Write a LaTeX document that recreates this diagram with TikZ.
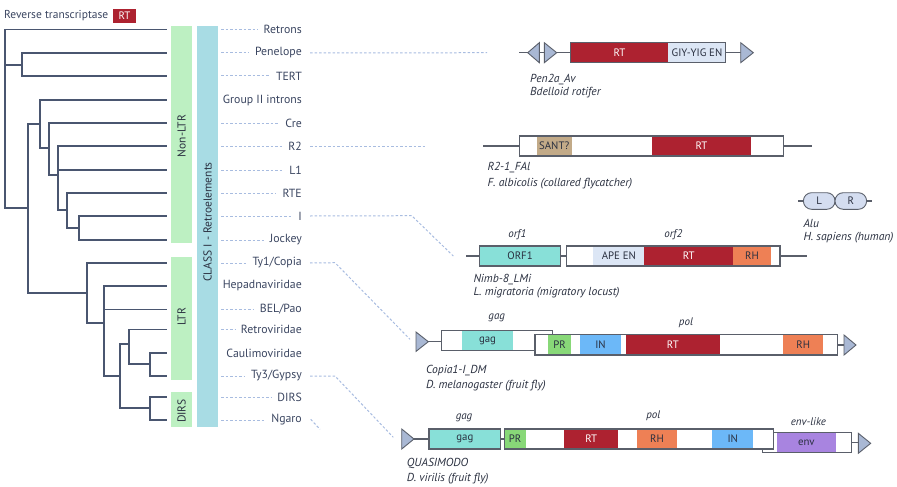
\documentclass[tikz,border=0pt]{standalone}
\usepackage{fontspec}
\setmainfont{PT Sans}
\definecolor{treec}{HTML}{4A5670}
\definecolor{labc}{HTML}{3A4560}
\definecolor{dashblue}{HTML}{A8BCE0}
\definecolor{outc}{HTML}{5A5F6A}
\definecolor{rtred}{HTML}{AD2230}
\definecolor{lblue}{HTML}{DCE6F5}
\definecolor{tan}{HTML}{C2AA88}
\definecolor{teal}{HTML}{88E0D8}
\definecolor{orng}{HTML}{EE8055}
\definecolor{prgreen}{HTML}{88D878}
\definecolor{inblue}{HTML}{6CB8F8}
\definecolor{envpur}{HTML}{A884E0}
\definecolor{trif}{HTML}{A9B8D4}
\definecolor{alufill}{HTML}{D4DDF0}
\definecolor{bargreen}{HTML}{BDF0C2}
\definecolor{barblue}{HTML}{A8DCE4}
\definecolor{segtxt}{HTML}{2A3040}
\definecolor{spc}{HTML}{2A3040}
\newcommand\mkseg[8]{\node[seg, fill=#6, text=#7, minimum width={(#3)-(#2)}, minimum height={(#5)-(#4)}] (#1) at (#2,#4) {#8};}
\begin{document}
\begin{tikzpicture}[x=1pt,y=-1pt,
  treeline/.style={draw=treec, line width=1.7pt, line cap=rect},
  leaf/.style={anchor=east, inner sep=0pt, text=labc, font=\fontsize{11.8}{12}\selectfont},
  dashc/.style={draw=dashblue, line width=1pt, dash pattern=on 2.5pt off 2pt},
  outl/.style={draw=outc, line width=1.1pt},
  seg/.style={anchor=north west, inner sep=0pt, outer sep=0pt, draw=none, font=\fontsize{10.8}{11}\selectfont},
  tri/.style={fill=trif, draw=outc, line width=0.9pt, line join=miter},
  wire/.style={draw=outc, line width=1.1pt},
  species/.style={anchor=west, inner sep=0pt, font=\itshape\fontsize{11.6}{12}\selectfont, text=spc},
  orflab/.style={inner sep=0pt, font=\itshape\fontsize{11}{12}\selectfont, text=spc},
  barbox/.style={anchor=north west, inner sep=0pt, outer sep=0pt},
  bartext/.style={rotate=90, inner sep=0pt, font=\fontsize{11.5}{12}\selectfont, text=segtxt},
  pill/.style={draw=outc, line width=0.9pt, fill=alufill, rounded corners=8.2pt, minimum width=31.6pt, minimum height=16.6pt, inner sep=0pt, font=\fontsize{10.8}{11}\selectfont, text=segtxt}
]
\useasboundingbox (0,0) rectangle (897,487);

% legend
\node[anchor=west, inner sep=0pt, text=labc, font=\fontsize{11.5}{12}\selectfont] (legend) at (4,16) {Reverse transcriptase};
\mkseg{legrt}{113}{136}{9}{23}{rtred}{white}{RT}

% bars
\node[barbox, fill=bargreen, minimum width=21pt, minimum height=217pt] (nonltrbar) at (171,26) {};
\node[barbox, fill=bargreen, minimum width=21pt, minimum height=123pt] (ltrbar) at (171,257) {};
\node[barbox, fill=bargreen, minimum width=21pt, minimum height=35pt] (dirsbar) at (171,392) {};
\node[barbox, fill=barblue, minimum width=21pt, minimum height=401pt] (classbar) at (197,26) {};
\node[bartext] (nonltrtxt) at (181.5,136) {Non-LTR};
\node[bartext] (ltrtxt) at (181.5,317) {LTR};
\node[bartext] (dirstxt) at (181.5,411) {DIRS};
\node[bartext] (classtxt) at (207.5,222) {CLASS I - Retroelements};

% tree
\draw[treeline] (166,29.5) -- (5,29.5) -- (5,208) -- (28,208);
\draw[treeline] (5,65) -- (22,65);
\draw[treeline] (166,53) -- (22,53) -- (22,76) -- (166,76);
\draw[treeline] (28,124) -- (28,293);
\draw[treeline] (28,124) -- (40,124);
\draw[treeline] (166,100) -- (40,100) -- (40,148) -- (49,148);
\draw[treeline] (166,123) -- (49,123) -- (49,175) -- (58,175);
\draw[treeline] (166,146) -- (58,146) -- (58,210) -- (67,210);
\draw[treeline] (58,170) -- (166,170);
\draw[treeline] (166,193) -- (67,193) -- (67,228) -- (79,228);
\draw[treeline] (166,216) -- (79,216) -- (79,240) -- (166,240);
\draw[treeline] (28,293) -- (87,293);
\draw[treeline] (166,263) -- (87,263) -- (87,323) -- (104,323);
\draw[treeline] (166,286) -- (104,286) -- (104,376) -- (120,376);
\draw[treeline] (104,309.5) -- (166,309.5);
\draw[treeline] (120,344) -- (120,408);
\draw[treeline] (120,344) -- (129,344);
\draw[treeline] (166,329.5) -- (129,329.5) -- (129,364) -- (150,364);
\draw[treeline] (166,353) -- (150,353) -- (150,376) -- (166,376);
\draw[treeline] (120,408) -- (150,408);
\draw[treeline] (166,397) -- (150,397) -- (150,420) -- (166,420);

% leaf labels
\node[leaf] (retrons) at (302,29.5) {Retrons};
\node[leaf] (penelope) at (302,53) {Penelope};
\node[leaf] (tert) at (302,76) {TERT};
\node[leaf] (groupii) at (302,100) {Group II introns};
\node[leaf] (cre) at (302,123) {Cre};
\node[leaf] (r2) at (302,146) {R2};
\node[leaf] (l1) at (302,170) {L1};
\node[leaf] (rte) at (302,193) {RTE};
\node[leaf] (ielem) at (302,216) {I};
\node[leaf] (jockey) at (302,240) {Jockey};
\node[leaf] (ty1) at (302,263) {Ty1/Copia};
\node[leaf] (hepad) at (302,286) {Hepadnaviridae};
\node[leaf] (belpao) at (302,309.5) {BEL/Pao};
\node[leaf] (retrov) at (302,329.5) {Retroviridae};
\node[leaf] (caulimo) at (302,353) {Caulimoviridae};
\node[leaf] (ty3) at (302,376) {Ty3/Gypsy};
\node[leaf] (dirs) at (302,397) {DIRS};
\node[leaf] (ngaro) at (302,420) {Ngaro};

\foreach \n/\yy in {retrons/29.5,penelope/53,tert/76,cre/123,r2/146,l1/170,rte/193,ielem/216,jockey/240,ty1/263,belpao/309.5,retrov/329.5,ty3/376,dirs/397,ngaro/420}
  \draw[dashc] (221,\yy) -- ([xshift=-6pt]\n.west);

% ---------- Penelope element ----------
\coordinate (penend) at (487,52.7);
\draw[dashc] ([xshift=8pt]penelope.east) -- (penend);
\draw[wire] (519,52.7) -- (570.7,52.7);
\filldraw[tri] (539.3,42.7) -- (527.7,52.7) -- (539.3,62.7) -- cycle;
\filldraw[tri] (544.3,42.7) -- (556.7,52.7) -- (544.3,62.7) -- cycle;
\mkseg{penrt}{570.7}{668.3}{42.5}{62.7}{rtred}{white}{RT}
\mkseg{penen}{668.3}{725.7}{42.5}{62.7}{lblue}{segtxt}{GIY-YIG EN}
\draw[outl] (570.7,42.5) rectangle (725.7,62.7);
\draw[wire] (725.7,52.7) -- (740.7,52.7);
\filldraw[tri] (740.7,42.7) -- (753.3,52.7) -- (740.7,62.7) -- cycle;
\node[species] (penname) at (530,80) {Pen2a\_Av};
\node[species] (pensp) at (530,93) {Bdelloid rotifer};

% ---------- R2 element ----------
\coordinate (r2end) at (425,146);
\draw[dashc] ([xshift=8pt]r2.east) -- (r2end);
\draw[wire] (483,146) -- (519.3,146);
\draw[wire] (783.3,146) -- (811.7,146);
\draw[fill=white, draw=none] (519.3,136) rectangle (783.3,156);
\mkseg{r2sant}{536.7}{571.7}{136}{156}{tan}{segtxt}{SANT?}
\mkseg{r2rt}{652.3}{750.7}{136}{156}{rtred}{white}{RT}
\draw[outl] (519.3,136) rectangle (783.3,156);
\node[species] (r2name) at (487.3,167.3) {R2-1\_FAl};
\node[species] (r2sp) at (487.3,183.3) {F. albicolis (collared flycatcher)};

% ---------- Alu ----------
\draw[wire] (798.3,201) -- (871.7,201);
\node[pill] (aluL) at (819.2,201) {L};
\node[pill] (aluR) at (850.8,201) {R};
\node[species] (aluname) at (803.3,223.3) {Alu};
\node[species] (alusp) at (803.3,237.3) {H. sapiens (human)};

% ---------- Nimb element ----------
\coordinate (nimbend) at (453.3,256);
\draw[dashc] ([xshift=8pt]ielem.east) -- (411.7,215.7) -- (nimbend);
\draw[wire] (466,256) -- (806.7,256);
\mkseg{orfone}{479.3}{560.7}{246}{266}{teal}{segtxt}{ORF1}
\draw[outl] (479.3,246) rectangle (560.7,266);
\draw[fill=white, draw=none] (566.7,246) rectangle (780,266);
\mkseg{nimbape}{593.3}{644.3}{246}{266}{lblue}{segtxt}{APE EN}
\mkseg{nimbrt}{644.3}{733.3}{246}{266}{rtred}{white}{RT}
\mkseg{nimbrh}{733.3}{770.7}{246}{266}{orng}{segtxt}{RH}
\draw[outl] (566.7,246) rectangle (780,266);
\node[orflab] (orf1lab) at (517.3,235) {orf1};
\node[orflab] (orf2lab) at (673.3,235) {orf2};
\node[species] (nimbname) at (473.3,279.3) {Nimb-8\_LMi};
\node[species] (nimbsp) at (473.3,292.7) {L. migratoria (migratory locust)};

% ---------- Copia element ----------
\coordinate (copend) at (410,339.3);
\draw[dashc] ([xshift=8pt]ty1.east) -- (335,262.7) -- (copend);
\filldraw[tri] (416,332) -- (428.3,341.7) -- (416,351.4) -- cycle;
\draw[wire] (428.3,341.7) -- (441.7,341.7);
\draw[fill=white, draw=none] (441.7,330.7) rectangle (552.3,350.7);
\mkseg{copgag}{461.7}{513.3}{330.7}{350.7}{teal}{segtxt}{gag}
\draw[outl] (441.7,330.7) rectangle (552.3,350.7);
\draw[fill=white, draw=none] (535,334.5) rectangle (837.3,355);
\mkseg{coppr}{548.3}{571}{334.5}{355}{prgreen}{segtxt}{PR}
\mkseg{copin}{580}{621}{334.5}{355}{inblue}{segtxt}{IN}
\mkseg{coprt}{625.7}{720}{334.5}{355}{rtred}{white}{RT}
\mkseg{coprh}{783.3}{823.3}{334.5}{355}{orng}{segtxt}{RH}
\draw[outl] (535,334.5) rectangle (837.3,355);
\draw[wire] (837.3,345) -- (844,345);
\filldraw[tri] (844,335) -- (856,345) -- (844,355) -- cycle;
\node[orflab] (copgaglab) at (496.7,318.3) {gag};
\node[orflab] (coppollab) at (686,322.7) {pol};
\node[species] (copname) at (426,370.7) {Copia1-I\_DM};
\node[species] (copsp) at (426,386) {D. melanogaster (fruit fly)};

% ---------- QUASIMODO element ----------
\coordinate (quaend) at (393.3,437.3);
\draw[dashc] ([xshift=8pt]ty3.east) -- (335,376) -- (quaend);
\coordinate (ngend) at (320,429.3);
\draw[dashc] ([xshift=8.7pt,yshift=0.7pt]ngaro.east) -- (ngend);
\filldraw[tri] (401.7,429) -- (414,439) -- (401.7,449) -- cycle;
\draw[wire] (414,439) -- (429,439);
\mkseg{quagag}{429}{500.7}{429}{449}{teal}{segtxt}{gag}
\draw[outl] (429,429) rectangle (500.7,449);
\draw[wire] (500.7,439) -- (504.3,439);
\draw[fill=white, draw=none] (762.7,432.3) rectangle (851.7,452.7);
\mkseg{quaenv}{776.7}{836}{432.3}{452.7}{envpur}{segtxt}{env}
\draw[outl] (762.7,432.3) rectangle (851.7,452.7);
\draw[fill=white, draw=none] (504.3,429) rectangle (773.3,449);
\mkseg{quapr}{504.3}{526}{429}{449}{prgreen}{segtxt}{PR}
\mkseg{quart}{564}{618.3}{429}{449}{rtred}{white}{RT}
\mkseg{quarh}{636.7}{677.3}{429}{449}{orng}{segtxt}{RH}
\mkseg{quain}{712.3}{753.3}{429}{449}{inblue}{segtxt}{IN}
\draw[outl] (504.3,429) rectangle (773.3,449);
\draw[wire] (851.7,442.8) -- (858.3,442.8);
\filldraw[tri] (858.3,433.3) -- (870.7,443.3) -- (858.3,453.3) -- cycle;
\node[orflab] (quagaglab) at (464,417.7) {gag};
\node[orflab] (quapollab) at (653.3,416) {pol};
\node[orflab] (quaenvlab) at (808.3,421.7) {env-like};
\node[species] (quaname) at (406.7,463.3) {QUASIMODO};
\node[species] (quasp) at (406.7,478.3) {D. virilis (fruit fly)};
\end{tikzpicture}
\end{document}
